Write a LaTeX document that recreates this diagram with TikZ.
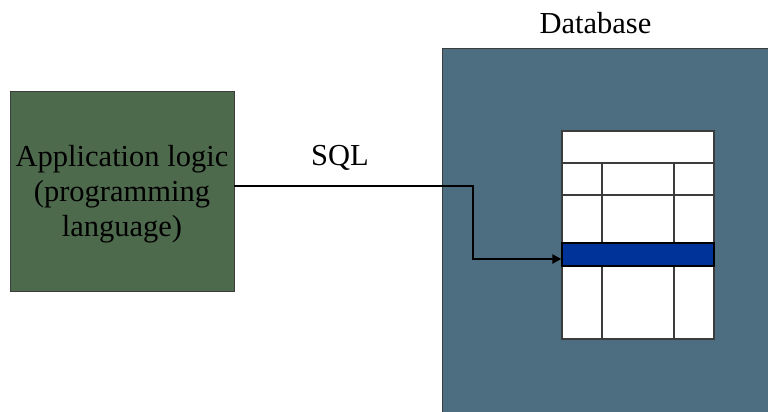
\documentclass[tikz,border=0pt]{standalone}
\usepackage{fontspec}
\setmainfont{Liberation Serif}
\usetikzlibrary{arrows.meta}
\definecolor{appgreen}{RGB}{78,106,77}
\definecolor{dbblue}{RGB}{77,110,128}
\definecolor{rowblue}{RGB}{0,51,153}
\definecolor{gridgray}{RGB}{60,60,60}
\tikzset{
  box/.style={draw=gridgray, line width=0.8pt, inner sep=0pt},
  label/.style={font=\fontsize{30.5}{35}\selectfont, inner sep=0pt, anchor=base},
  cell/.style={draw=gridgray, line width=1.3pt},
  conn/.style={line width=2.8pt, -{Triangle[length=9pt,width=9pt]}}
}
\begin{document}
\begin{tikzpicture}[x=1pt,y=-1pt]
\useasboundingbox (0,0) rectangle (768,412);
% application box
\node[box, fill=appgreen, minimum width=224pt, minimum height=200pt] (app) at (122,191) {};
\node[label, align=center] (apptext) at (122,236) {Application logic\\(programming\\language)};
% database box
\node[box, fill=dbblue, minimum width=326pt, minimum height=364pt] (db) at (605,230) {};
\node[label] (dbtitle) at (595.5,34) {Database};
% table
\node[cell, fill=white, minimum width=152pt, minimum height=208pt, inner sep=0pt] (tbl) at (638,235) {};
\draw[cell] (562,163) -- (714,163);
\draw[cell] (562,195) -- (714,195);
\draw[cell] (602,163) -- (602,243);
\draw[cell] (674,163) -- (674,243);
\draw[cell] (602,266) -- (602,339);
\draw[cell] (674,266) -- (674,339);
\node[draw=black, line width=1.3pt, fill=rowblue, minimum width=152pt, minimum height=23pt, inner sep=0pt] (row) at (638,254.5) {};
% SQL label and connector
\node[label] (sql) at (340,165) {SQL};
\coordinate (bend) at (473,186);
\draw[conn] (app.east |- bend) -- (bend) |- ([yshift=-4.5pt]row.west);
\end{tikzpicture}
\end{document}
